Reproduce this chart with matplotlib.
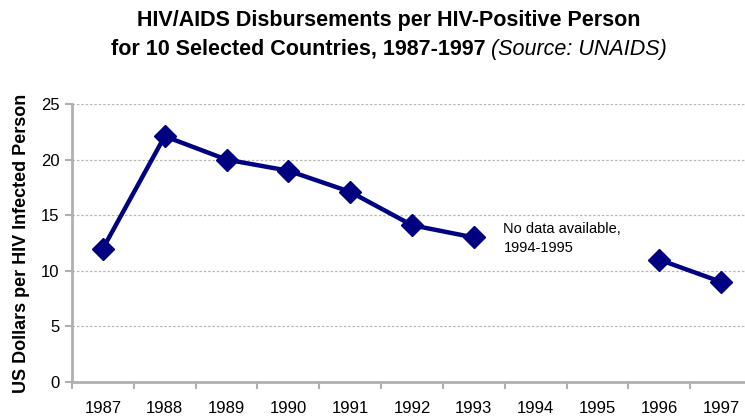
import matplotlib.pyplot as plt
import numpy as np

plt.rcParams['font.family'] = ['Liberation Sans', 'DejaVu Sans']

years = ["1987", "1988", "1989", "1990", "1991", "1992", "1993", "1994", "1995", "1996", "1997"]
values = [12, 22.1, 20, 19, 17.1, 14.1, 13, np.nan, np.nan, 11, 9]

fig = plt.figure(figsize=(7.45, 4.17), dpi=100)
# axes runs a little past the right edge, as in the original
ax = fig.add_axes([72 / 745, 35 / 417, 680 / 745, 278 / 417])

x = np.arange(len(years))
ax.plot(x, values, color="#000080", lw=3.2, marker="D", markersize=11, zorder=3)

ax.set_xlim(-0.5, len(years) - 0.5)
ax.set_ylim(0, 25)
ax.set_yticks([0, 5, 10, 15, 20, 25])
ax.set_xticks(x)
ax.set_xticklabels(years)
ax.set_xticks(np.arange(-0.5, len(years), 1), minor=True)
ax.tick_params(axis="x", which="major", length=0, labelsize=12, pad=14)
ax.tick_params(axis="x", which="minor", length=5, color="#b0b0b0", width=1.5)
ax.tick_params(axis="y", length=5, color="#b0b0b0", width=1.5, labelsize=12, pad=4)

ax.yaxis.grid(True, color="#b8b8b8", lw=0.9, linestyle=(0, (2, 1.5)))
ax.set_axisbelow(True)
for s in ["top", "right"]:
    ax.spines[s].set_visible(False)
for s in ["left", "bottom"]:
    ax.spines[s].set_color("#b0b0b0")
    ax.spines[s].set_linewidth(2)

ax.set_ylabel("US Dollars per HIV Infected Person", fontsize=13, fontweight="bold", labelpad=8)

ax.text(6.48, 12.9, "No data available,\n1994-1995", fontsize=10.5, va="center", ha="left", linespacing=1.5)

fig.text(0.522, 0.952, "HIV/AIDS Disbursements per HIV-Positive Person", ha="center", va="center",
         fontsize=15.5, fontweight="bold")

# second title line: bold part followed by italic source
t1 = fig.text(0, 0.882, "for 10 Selected Countries, 1987-1997 ", ha="left", va="center",
              fontsize=15.5, fontweight="bold")
t2 = fig.text(0, 0.882, "(Source: UNAIDS)", ha="left", va="center", fontsize=15.5, style="italic")
fig.canvas.draw()
r = fig.canvas.get_renderer()
w1 = t1.get_window_extent(r).width / fig.bbox.width
w2 = t2.get_window_extent(r).width / fig.bbox.width
start = 0.522 - (w1 + w2) / 2
t1.set_x(start)
t2.set_x(start + w1)

fig.savefig("out.png", dpi=100)
